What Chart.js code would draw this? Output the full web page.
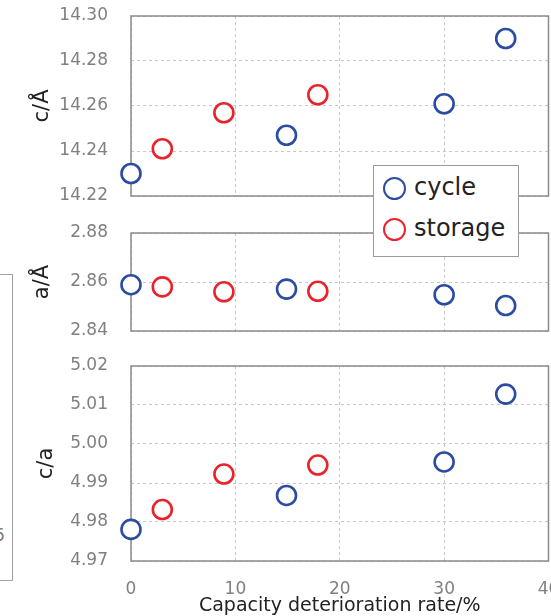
<!DOCTYPE html>
<html>
<head>
<meta charset="utf-8">
<script src="https://cdn.jsdelivr.net/npm/chart.js@4.4.1/dist/chart.umd.min.js"></script>
<style>
  html, body { margin: 0; padding: 0; background: #fff; }
  #wrap { position: relative; width: 551px; height: 616px; overflow: hidden; font-family: "DejaVu Sans", sans-serif; }
  canvas.panel { position: absolute; left: 0; top: 0; }
  #legend { position: absolute; left: 373px; top: 165px; width: 146px; height: 92px; box-sizing: border-box;
            border: 1.5px solid #9a9a9a; background: #fff; z-index: 5; }
  #legend .item { position: absolute; left: 0; height: 24px; }
  #legend .dot { position: absolute; left: 9px; width: 23px; height: 23px; box-sizing: border-box;
                 border-radius: 50%; border: 2.6px solid; background: #fff; }
  #legend .lbl { position: absolute; left: 40px; top: 0; font-size: 24px; line-height: 24px; color: #222; white-space: nowrap; }
  #side { position: absolute; left: -20px; top: 274px; width: 33px; height: 307px; box-sizing: border-box;
          border: 1.5px solid #a0a0a0; }
  #sideTick { position: absolute; left: -40px; top: 527px; width: 45px; text-align: right;
              font-size: 17px; line-height: 16px; color: #808080; }
</style>
</head>
<body>
<div id="wrap">
  <div id="side"></div>
  <div id="sideTick">5</div>
  <canvas class="panel" id="pC" width="551" height="616"></canvas>
  <canvas class="panel" id="pA" width="551" height="616"></canvas>
  <canvas class="panel" id="pR" width="551" height="616"></canvas>
  <div id="legend"></div>
</div>
<script>
// Series names and colours
const seriesNames = ['cycle', 'storage'];
const seriesColors = ['#2c4ca2', '#e8232b'];

// Capacity deterioration rate (%) for each sample
const cycleRate   = [0.0, 14.9, 30.0, 35.9];
const storageRate = [3.0, 8.9, 17.9];

// Lattice parameter c (Å)
const cycleC   = [14.230, 14.247, 14.261, 14.290];
const storageC = [14.241, 14.257, 14.265];

// Lattice parameter a (Å)
const cycleA   = [2.8589, 2.8571, 2.8548, 2.8504];
const storageA = [2.8580, 2.8560, 2.8562];

// Ratio c/a
const cycleRatio   = [4.9781, 4.9868, 4.9954, 5.0128];
const storageRatio = [4.9832, 4.9923, 4.9946];

// Axis ranges and tick steps
const xRange = [0, 40], xStep = 10;
const cRange = [14.22, 14.30], cStep = 0.02;
const aRange = [2.84, 2.88], aStep = 0.02;
const rRange = [4.97, 5.02], rStep = 0.01;

const xTitle = 'Capacity deterioration rate/%';
const yTitles = ['c/Å', 'a/Å', 'c/a'];

const FONT = 'DejaVu Sans';
const GRID = '#c8c8c8';

// Plot frame drawn under the markers
const framePlugin = {
  id: 'frame',
  beforeDatasetsDraw(chart) {
    const { ctx, chartArea: a } = chart;
    ctx.save();
    ctx.strokeStyle = '#8a8a8a';
    ctx.lineWidth = 1.5;
    ctx.strokeRect(a.left, a.top, a.right - a.left, a.bottom - a.top);
    ctx.restore();
  }
};

function points(xs, ys) {
  return xs.map((x, i) => ({ x: x, y: ys[i] }));
}

function dataset(idx, xs, ys) {
  return {
    label: seriesNames[idx],
    data: points(xs, ys),
    borderColor: seriesColors[idx],
    backgroundColor: '#ffffff',
    pointRadius: 9.5,
    pointBorderWidth: 2.6,
    pointStyle: 'circle',
    showLine: false,
    clip: false
  };
}

function makePanel(id, opts) {
  const showX = opts.showX;
  return new Chart(document.getElementById(id), {
    type: 'scatter',
    data: {
      datasets: [
        dataset(0, cycleRate, opts.cycle),
        dataset(1, storageRate, opts.storage)
      ]
    },
    options: {
      responsive: false,
      animation: false,
      events: [],
      layout: { autoPadding: false, padding: { top: opts.top, bottom: opts.bottom, left: 0, right: 2.5 } },
      plugins: { legend: { display: false }, tooltip: { enabled: false } },
      scales: {
        x: {
          type: 'linear',
          min: xRange[0], max: xRange[1],
          ticks: {
            display: showX, stepSize: xStep, padding: 18,
            color: '#808080', font: { family: FONT, size: 17 }
          },
          grid: { color: GRID, lineWidth: 1, drawTicks: false },
          border: { display: false, dash: [3, 3] },
          title: {
            display: showX, text: xTitle, color: '#222',
            font: { family: FONT, size: 19 }, padding: { top: 0, bottom: -1 }
          },
          afterFit(scale) {
            scale.height = opts.xHeight;
            scale.paddingLeft = 0;
            scale.paddingRight = 0;
          }
        },
        y: {
          type: 'linear',
          min: opts.range[0], max: opts.range[1],
          ticks: {
            stepSize: opts.step, padding: 23,
            color: '#808080', font: { family: FONT, size: 17 },
            callback: v => Number(v).toFixed(2)
          },
          grid: { color: GRID, lineWidth: 1, drawTicks: false },
          border: { display: false, dash: [3, 3] },
          title: {
            display: true, text: opts.title, color: '#222',
            font: { family: FONT, size: 21, lineHeight: 1.2 },
            padding: { top: opts.titlePad, bottom: 0 }
          },
          afterFit(scale) {
            scale.width = 131;
            scale.paddingTop = 0;
            scale.paddingBottom = 0;
          }
        }
      }
    },
    plugins: [framePlugin]
  });
}

makePanel('pC', { cycle: cycleC, storage: storageC, range: cRange, step: cStep,
  title: yTitles[0], top: 16, bottom: 420, xHeight: 0, showX: false, titlePad: 30 });
makePanel('pA', { cycle: cycleA, storage: storageA, range: aRange, step: aStep,
  title: yTitles[1], top: 233, bottom: 285, xHeight: 0, showX: false, titlePad: 30 });
makePanel('pR', { cycle: cycleRatio, storage: storageRatio, range: rRange, step: rStep,
  title: yTitles[2], top: 366, bottom: 0, xHeight: 55, showX: true, titlePad: 34 });

// Legend box
const legend = document.getElementById('legend');
const rowTops = [9, 50];
seriesNames.forEach((name, i) => {
  const item = document.createElement('div');
  item.className = 'item';
  item.style.top = rowTops[i] + 'px';
  const dot = document.createElement('div');
  dot.className = 'dot';
  dot.style.borderColor = seriesColors[i];
  dot.style.top = '2px';
  const lbl = document.createElement('div');
  lbl.className = 'lbl';
  lbl.textContent = name;
  item.appendChild(dot);
  item.appendChild(lbl);
  legend.appendChild(item);
});
</script>
</body>
</html>
